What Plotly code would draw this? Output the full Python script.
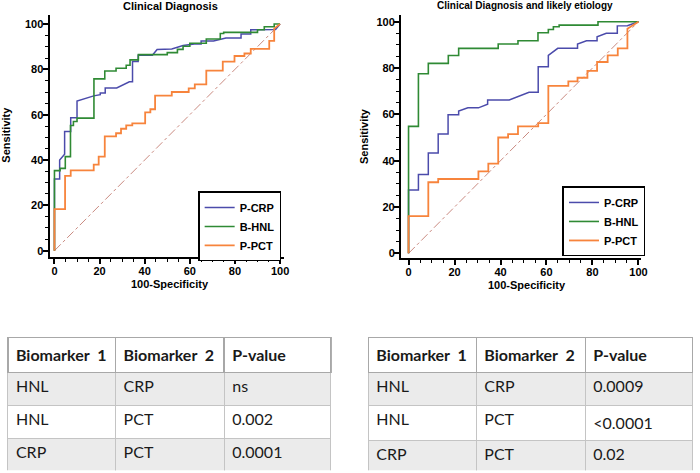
import plotly.graph_objects as go

# ---------------- data ----------------
series_names = ["P-CRP", "B-HNL", "P-PCT"]
series_colors = ["#4b4bab", "#2f8a34", "#f7843c"]

# Left panel: Clinical Diagnosis (100-Specificity, Sensitivity)
left_crp_x = [0, 0, 2.3, 2.3, 4.5, 4.5, 7.2, 7.2, 10, 10, 17.4, 20.3, 20.3, 22.5, 22.5, 27.6, 33.2, 34.6, 34.6,
              37.1, 37.1, 43.4, 45.5, 52, 57, 62, 65, 65, 70.5, 76, 82.7, 82.7, 87, 87, 98, 100]
left_crp_y = [0, 31.6, 31.6, 40, 42.6, 52.6, 52.6, 58.6, 58.6, 66, 68.3, 68.8, 69.6, 69.6, 71.8, 71.8, 74.5, 74.5, 83.5,
              83.5, 86.2, 86.2, 88.8, 89, 90.5, 91.2, 91.2, 92.5, 92.5, 93.8, 93.8, 95.6, 95.6, 97.5, 97.6, 100]

left_hnl_x = [0, 0, 2.5, 2.5, 4.8, 4.8, 7.1, 7.1, 8.4, 8.4, 10, 10, 17.5, 17.5, 22.3, 22.3, 27.3, 27.3, 31.8, 31.8,
              33.5, 33.5, 37.2, 37.2, 50, 50, 54.5, 54.5, 57, 57, 60, 60, 67.3, 67.3, 73.5, 73.5, 75, 75, 90, 90,
              93, 93, 97.4, 97.4, 100]
left_hnl_y = [0, 35.3, 35.3, 36.3, 36.3, 41.5, 41.5, 55.2, 55.2, 57, 57, 58.5, 58.5, 75.8, 75.8, 79.3, 79.3, 80.5, 80.5,
              81.8, 81.8, 84.2, 84.2, 86.5, 86.5, 87.4, 87.4, 88.8, 88.8, 90.2, 90.2, 91.5, 91.5, 93.4, 93.4, 95.8,
              95.8, 96.3, 96.3, 97.5, 97.5, 98.8, 98.8, 100, 100]

left_pct_x = [0, 0, 4.7, 4.7, 7.2, 7.2, 17.4, 17.4, 19.6, 19.6, 22.3, 22.3, 27.3, 27.3, 29.5, 29.5, 31.8, 31.8,
              34.5, 34.5, 40.2, 40.2, 42.5, 42.5, 44.6, 44.6, 52, 52, 59.5, 59.5, 62.2, 62.2, 67.3, 67.3, 74.6,
              74.6, 79.8, 79.8, 84.2, 84.2, 87, 87, 95.2, 95.2, 97.4, 97.4, 100]
left_pct_y = [0, 18.3, 18.3, 33, 33, 35.4, 35.4, 38, 38, 41.5, 41.5, 50.4, 50.4, 51.8, 51.8, 53.8, 53.8, 55.3,
              55.3, 56.2, 56.2, 61, 61, 62.4, 62.4, 68.4, 68.4, 70, 70, 71.6, 71.6, 73.4, 73.4, 79.4, 79.4, 83.4,
              83.4, 85.9, 85.9, 87, 87, 89, 89, 92.6, 92.6, 98, 100]

# Right panel: Clinical Diagnosis and likely etiology
right_crp_x = [0, 0, 4.3, 4.3, 8.6, 8.6, 12.9, 12.9, 17.2, 17.2, 21.8, 21.8, 25.8, 30.4, 34.4, 34.4, 43.8, 52.4,
               56.4, 56.4, 60.8, 60.8, 64.9, 73.5, 73.5, 77.4, 82, 82, 86, 90.8, 90.8, 95.2, 100]
right_crp_y = [0, 27.3, 27.3, 34, 34, 43.3, 43.3, 51.5, 51.5, 59.8, 59.8, 61.4, 62.8, 62.8, 64.4, 66.2, 66.2, 69.5,
               69.5, 80.6, 80.6, 85.5, 88.5, 88.5, 90.4, 91.8, 91.8, 93.5, 95, 95, 98.2, 98.3, 100]

right_hnl_x = [0, 0, 4.3, 4.3, 8.6, 8.6, 17.3, 17.3, 21.8, 21.8, 39, 39, 47.6, 47.6, 56.3, 56.3, 60.8, 60.8,
               63, 63, 65.5, 65.5, 82.4, 82.4, 100]
right_hnl_y = [0, 54.8, 54.8, 77.5, 77.5, 82, 82, 85.4, 85.4, 88.5, 88.5, 90.4, 90.4, 91.8, 91.8, 95.2, 95.2, 96.6,
               96.6, 97.8, 97.8, 98.5, 98.5, 100, 100]

right_pct_x = [0, 0, 8.6, 8.6, 12.9, 12.9, 30.4, 30.4, 34.7, 34.7, 39, 39, 43.3, 43.3, 47.6, 47.6, 56.4, 56.4,
               60.8, 60.8, 69.5, 69.5, 73.5, 73.5, 77.8, 77.8, 82, 82, 86.6, 86.6, 91, 91, 95.2, 95.2, 100]
right_pct_y = [0, 16.1, 16.1, 30.7, 30.7, 32.1, 32.1, 35.4, 35.4, 38.7, 38.7, 50, 50, 51.5, 51.5, 54.8, 54.8, 56.2,
               56.2, 72.3, 72.3, 74.2, 74.2, 75.8, 75.8, 78.8, 78.8, 82.6, 82.6, 85.5, 85.5, 88.5, 88.5, 97, 100]

diag_x = [0, 100]
diag_y = [0, 100]

tick_vals = [0, 20, 40, 60, 80, 100]
tick_text = ["0", "20", "40", "60", "80", "100"]

titles = ["Clinical Diagnosis", "Clinical Diagnosis and likely etiology"]
x_title = "100-Specificity"
y_title = "Sensitivity"

table_header = ["Biomarker\u00a0\u00a01", "Biomarker\u00a0\u00a02", "P-value"]
left_col1 = ["HNL", "HNL", "CRP"]
left_col2 = ["CRP", "PCT", "PCT"]
left_pval = ["ns", "0.002", "0.0001"]
right_col1 = ["HNL", "HNL", "CRP"]
right_col2 = ["CRP", "PCT", "PCT"]
right_pval = ["0.0009", "<0.0001", "0.02"]

# ---------------- figure ----------------
W, H = 700, 473
def fx(px):
    return px / W
def fy(py):
    return 1 - py / H

fig = go.Figure()

left_series = [(left_crp_x, left_crp_y), (left_hnl_x, left_hnl_y), (left_pct_x, left_pct_y)]
right_series = [(right_crp_x, right_crp_y), (right_hnl_x, right_hnl_y), (right_pct_x, right_pct_y)]
widths = [1.5, 1.6, 1.8]

for ax, series, leg in [("", left_series, "legend"), ("2", right_series, "legend2")]:
    fig.add_trace(go.Scatter(x=diag_x, y=diag_y, mode="lines", xaxis="x" + ax, yaxis="y" + ax,
                             line=dict(color="#c98a80", width=1, dash="dashdot"), showlegend=False,
                             hoverinfo="skip"))
    for (xs, ys), name, col, w in zip(series, series_names, series_colors, widths):
        fig.add_trace(go.Scatter(x=xs, y=ys, mode="lines", name=name, xaxis="x" + ax, yaxis="y" + ax,
                                 line=dict(color=col, width=w), legend=leg))

axis_common = dict(
    showline=True, linecolor="black", linewidth=2, ticks="outside", ticklen=5, tickwidth=1.5,
    tickcolor="black", tickvals=tick_vals, ticktext=tick_text, showgrid=False, zeroline=False,
    ticklabelstandoff=-3,
    tickfont=dict(family="Liberation Sans", size=11, color="black", weight="bold"),
    minor=dict(dtick=5, tick0=0, ticks="outside", ticklen=3, tickwidth=1, tickcolor="black", showgrid=False),
    fixedrange=True,
)

fig.update_layout(
    width=W, height=H, margin=dict(l=0, r=0, t=0, b=0),
    paper_bgcolor="white", plot_bgcolor="white",
    font=dict(family="Liberation Sans", color="black"),
    xaxis=dict(domain=[fx(50), fx(287)], range=[-2.2, 101.8], anchor="y", **axis_common),
    yaxis=dict(domain=[fy(258), fy(15)], range=[-3, 104], anchor="x", **axis_common),
    xaxis2=dict(domain=[fx(405), fx(647)], range=[-3.3, 100.9], anchor="y2", **axis_common),
    yaxis2=dict(domain=[fy(259), fy(15)], range=[-2.2, 102.9], anchor="x2", **axis_common),
    legend=dict(x=fx(284), y=fy(262), xanchor="right", yanchor="bottom", bordercolor="black",
                borderwidth=1.5, bgcolor="white", tracegroupgap=0, itemwidth=30,
                font=dict(family="Liberation Sans", size=11, color="black", weight="bold")),
    legend2=dict(x=fx(652), y=fy(257), xanchor="right", yanchor="bottom", bordercolor="black",
                 borderwidth=1.5, bgcolor="white", tracegroupgap=0, itemwidth=30,
                 font=dict(family="Liberation Sans", size=11, color="black", weight="bold")),
)

ann_font = dict(family="Liberation Sans", size=11, color="black", weight="bold")
annotations = [
    dict(text=titles[0], x=fx(172), y=fy(6), font=ann_font),
    dict(text=titles[1], x=fx(530), y=fy(6), font=dict(ann_font, size=10)),
    dict(text=x_title, x=fx(172), y=fy(285), font=ann_font),
    dict(text=x_title, x=fx(532), y=fy(286), font=ann_font),
    dict(text=y_title, x=fx(6), y=fy(135), font=ann_font, textangle=-90),
    dict(text=y_title, x=fx(367), y=fy(136), font=ann_font, textangle=-90),
]
for a in annotations:
    a.update(xref="paper", yref="paper", showarrow=False, xanchor="center", yanchor="middle")
fig.update_layout(annotations=annotations)

row_fill = ["#ebebeb", "white", "#ebebeb"]
for (c1, c2, pv), dom in [((left_col1, left_col2, left_pval), [fx(8), fx(335)]),
                          ((right_col1, right_col2, right_pval), [fx(372), 1.0])]:
    fig.add_trace(go.Table(
        domain=dict(x=dom, y=[fy(472), fy(338)]),
        columnwidth=[109, 110, 108],
        header=dict(values=["<b>%s</b>" % h for h in table_header], height=33, align="left",
                    fill_color="white", line=dict(color="#a8a8a8", width=1.5),
                    font=dict(family="Lato", size=16, color="#1a1a1a")),
        cells=dict(values=[c1, c2, pv], height=33, align="left",
                   fill_color=[row_fill] * 3, line=dict(color="#c4c4c4", width=1),
                   font=dict(family="Lato", size=16, color="#1a1a1a")),
    ))

fig.write_html("out.html", config={"displayModeBar": False},
               post_script="document.body.style.margin='0';")
